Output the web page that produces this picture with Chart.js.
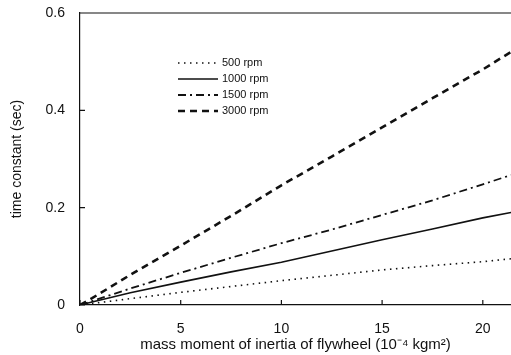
<!DOCTYPE html>
<html>
<head>
<meta charset="utf-8">
<script src="https://cdn.jsdelivr.net/npm/chart.js@4/dist/chart.umd.min.js"></script>
<style>
  html, body { margin: 0; padding: 0; background: #fff; }
  #wrap { width: 511px; height: 355px; position: relative; }
</style>
</head>
<body>
<div id="wrap"><canvas id="chart"></canvas></div>
<script>
// flywheel inertia (10^-4 kgm^2) against time constant (sec)
const inertia = [0, 0.6, 2.5, 5, 7.5, 10, 12.5, 15, 17.5, 20, 21.4];
const rpm500 = [0, 0.003, 0.013, 0.026, 0.038, 0.050, 0.061, 0.072, 0.081, 0.089, 0.095];
const rpm1000 = [0, 0.006, 0.025, 0.047, 0.068, 0.088, 0.111, 0.134, 0.156, 0.179, 0.190];
const rpm1500 = [0, 0.008, 0.034, 0.066, 0.097, 0.127, 0.155, 0.185, 0.215, 0.248, 0.267];
const rpm3000 = [0, 0.014, 0.062, 0.122, 0.183, 0.246, 0.305, 0.365, 0.425, 0.484, 0.520];
const seriesLabels = ['500 rpm', '1000 rpm', '1500 rpm', '3000 rpm'];
const xTicks = [0, 5, 10, 15, 20];
const yTicks = [0, 0.2, 0.4, 0.6];

const INK = '#111';
const FONT = '"Liberation Sans", Arial, sans-serif';

function points(values) {
  return values.map((v, i) => ({ x: inertia[i], y: v }));
}

const styles = [
  { borderWidth: 1.6, borderDash: [1.5, 4.5] },
  { borderWidth: 1.6, borderDash: [] },
  { borderWidth: 1.8, borderDash: [8, 4, 2, 4] },
  { borderWidth: 2.6, borderDash: [7, 5] }
];

const datasets = [rpm500, rpm1000, rpm1500, rpm3000].map((values, i) => ({
  label: seriesLabels[i],
  data: points(values),
  borderColor: INK,
  backgroundColor: INK,
  pointRadius: 0,
  tension: 0,
  ...styles[i]
}));

// inward tick marks, top frame line and the legend inside the plot
const frame = {
  id: 'frame',
  afterDraw(chart) {
    const { ctx, chartArea: a, scales } = chart;
    ctx.save();
    ctx.strokeStyle = INK;
    ctx.lineWidth = 1.2;
    ctx.beginPath();
    ctx.moveTo(a.left, a.top);
    ctx.lineTo(a.right, a.top);
    xTicks.forEach(v => {
      const px = scales.x.getPixelForValue(v);
      ctx.moveTo(px, a.bottom);
      ctx.lineTo(px, a.bottom - 5);
    });
    yTicks.forEach(v => {
      const py = scales.y.getPixelForValue(v);
      ctx.moveTo(a.left, py);
      ctx.lineTo(a.left + 5, py);
    });
    ctx.stroke();

    ctx.font = '11px ' + FONT;
    ctx.fillStyle = INK;
    ctx.textBaseline = 'middle';
    chart.data.datasets.forEach((ds, i) => {
      const y = 63 + i * 16;
      ctx.lineWidth = ds.borderWidth;
      ctx.setLineDash(ds.borderDash);
      ctx.beginPath();
      ctx.moveTo(178, y);
      ctx.lineTo(218, y);
      ctx.stroke();
      ctx.setLineDash([]);
      ctx.fillText(ds.label, 222, y);
    });
    ctx.restore();
  }
};

new Chart(document.getElementById('chart'), {
  type: 'line',
  data: { datasets },
  options: {
    responsive: true,
    maintainAspectRatio: false,
    animation: false,
    layout: { padding: { top: 13, right: 0, left: 0, bottom: 0 } },
    plugins: { legend: { display: false }, tooltip: { enabled: false } },
    scales: {
      x: {
        type: 'linear',
        min: 0,
        max: 21.4,
        afterFit: scale => {
          scale.height = 50;
          scale.paddingLeft = 0;
          scale.paddingRight = 0;
        },
        afterBuildTicks: scale => { scale.ticks = xTicks.map(value => ({ value })); },
        grid: { display: false, drawTicks: false },
        border: { color: INK, width: 1.2 },
        ticks: { color: INK, padding: 16, font: { family: FONT, size: 14 } },
        title: {
          display: true,
          text: 'mass moment of inertia of flywheel (10\u207B\u2074 kgm\u00B2)',
          color: INK,
          font: { family: FONT, size: 15 },
          padding: { top: 0, bottom: 1 }
        }
      },
      y: {
        min: 0,
        max: 0.6,
        afterFit: scale => {
          scale.width = 80;
          scale.paddingTop = 0;
          scale.paddingBottom = 0;
        },
        afterBuildTicks: scale => { scale.ticks = yTicks.map(value => ({ value })); },
        grid: { display: false, drawTicks: false },
        border: { color: INK, width: 1.2 },
        ticks: {
          color: INK,
          padding: 15,
          font: { family: FONT, size: 14 },
          callback: v => v === 0 ? '0' : v.toFixed(1)
        },
        title: {
          display: true,
          text: 'time constant (sec)',
          color: INK,
          font: { family: FONT, size: 14 },
          padding: { top: 9, bottom: 0 }
        }
      }
    }
  },
  plugins: [frame]
});
</script>
</body>
</html>
